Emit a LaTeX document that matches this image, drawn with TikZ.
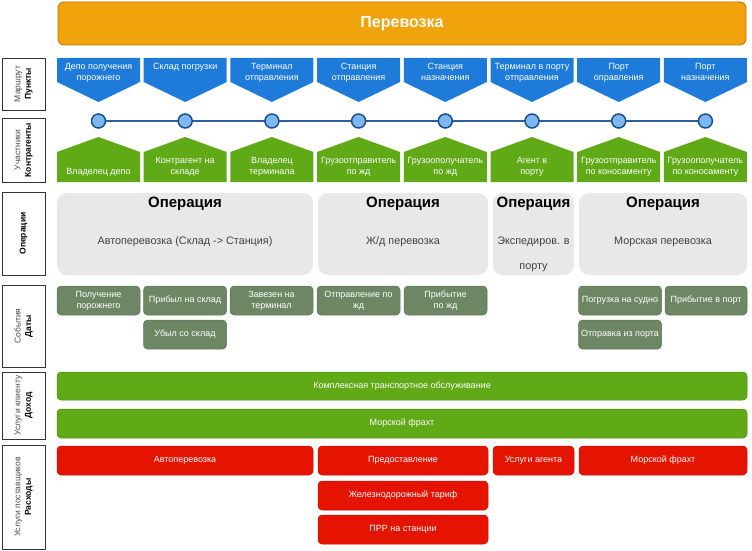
\documentclass[tikz,border=0pt]{standalone}
\usepackage{fontspec}
\setmainfont{Liberation Sans}
\definecolor{orF}{HTML}{F0A30A}
\definecolor{orD}{HTML}{BD7000}
\definecolor{blF}{HTML}{1E7BD9}
\definecolor{ciF}{HTML}{7DB9F0}
\definecolor{ciD}{HTML}{1A4F8F}
\definecolor{liC}{HTML}{2E5E9E}
\definecolor{grF}{HTML}{60A917}
\definecolor{grD}{HTML}{4C8A12}
\definecolor{olF}{HTML}{6D8764}
\definecolor{olD}{HTML}{5E7556}
\definecolor{gyF}{HTML}{E8E8E8}
\definecolor{rdF}{HTML}{E51400}
\definecolor{rdD}{HTML}{C41100}
\newcommand\rbox[7]{%
  \node[#2, minimum width={(#5-#3)*1pt}, minimum height={(#6-#4)*1pt}] (#1) at ({(#3+#5)/2},{(#4+#6)/2}) {#7};}
\tikzset{
  base/.style={inner sep=0pt, outer sep=0pt, align=center},
  banner/.style={base, fill=orF, draw=orD, line width=0.8pt, rounded corners=6pt, text=white, font=\fontsize{16}{18}\selectfont\bfseries},
  lab/.style={base, draw=black!80, line width=0.6pt, fill=white},
  labtxt/.style={base, rotate=90, font=\fontsize{8.5}{10.5}\selectfont, text=black!70},
  optile/.style={base, fill=gyF, rounded corners=10pt},
  optitle/.style={base, font=\fontsize{15}{17}\selectfont\bfseries, text=black},
  opsub/.style={base, font=\fontsize{10.8}{25}\selectfont, text=black!75},
  evt/.style={base, fill=olF, draw=olD, line width=0.5pt, rounded corners=4pt, text=white, font=\fontsize{9}{11}\selectfont},
  rev/.style={base, fill=grF, draw=grD, line width=0.5pt, rounded corners=4pt, text=white, font=\fontsize{9}{11}\selectfont},
  cost/.style={base, fill=rdF, draw=rdD, line width=0.5pt, rounded corners=4pt, text=white, font=\fontsize{9}{11}\selectfont},
  pent/.style={line width=0.5pt},
  penttxt/.style={base, text=white, font=\fontsize{9}{11}\selectfont},
  dot/.style={circle, inner sep=0pt, outer sep=0pt, minimum size=14pt, fill=ciF, draw=ciD, line width=1.5pt},
  chain/.style={draw=liC, line width=1.5pt}
}
\begin{document}
\begin{tikzpicture}[x=1pt,y=-1pt]
\useasboundingbox (0,0) rectangle (752,551);
% banner
\rbox{ban}{banner}{58}{2}{746}{45}{Перевозка}
% left labels
\rbox{L1}{lab}{2}{58}{45}{110}{}
\rbox{L2}{lab}{2}{118}{45}{182}{}
\rbox{L3}{lab}{2}{192}{45}{275}{}
\rbox{L4}{lab}{2}{285}{45}{367}{}
\rbox{L5}{lab}{2}{372}{45}{439}{}
\rbox{L6}{lab}{2}{445}{45}{549}{}
\node[labtxt] (L1t) at (L1) {Маршрут\\\textbf{\color{black}Пункты}};
\node[labtxt] (L2t) at (L2) {Участники\\\textbf{\color{black}Контрагенты}};
\node[labtxt] (L3t) at (L3) {\textbf{\color{black}Операции}};
\node[labtxt] (L4t) at (L4) {События\\\textbf{\color{black}Даты}};
\node[labtxt] (L5t) at (L5) {Услуги клиенту\\\textbf{\color{black}Доход}};
\node[labtxt] (L6t) at (L6) {Услуги поставщиков\\\textbf{\color{black}Расходы}};
% route pentagons, dots and participants
\foreach \i/\bt/\gt in {
  0/{Депо получения\\порожнего}/{Владелец депо},
  1/{Склад погрузки}/{Контрагент на\\складе},
  2/{Терминал\\отправления}/{Владелец\\терминала},
  3/{Станция\\отправления}/{Грузоотправитель\\по жд},
  4/{Станция\\назначения}/{Грузоополучатель\\по жд},
  5/{Терминал в порту\\отправления}/{Агент в\\порту},
  6/{Порт\\оправления}/{Грузоотправитель\\по коносаменту},
  7/{Порт\\назначения}/{Грузоополучатель\\по коносаменту}}{
  \pgfmathsetmacro\cx{98.5+86.7*\i}
  \pgfmathsetmacro\lx{\cx-41.5}
  \pgfmathsetmacro\rx{\cx+41.5}
  \fill[blF, pent] (\lx,58) -- (\rx,58) -- (\rx,82) -- (\cx,102) -- (\lx,82) -- cycle;
  \node[penttxt, anchor=north] (b\i) at (\cx,63.5) {\bt};
  \fill[grF, pent] (\cx,137) -- (\rx,152) -- (\rx,182) -- (\lx,182) -- (\lx,152) -- cycle;
  \node[penttxt, anchor=south] (g\i) at (\cx,176.5) {\gt};
}
\foreach \i in {0,...,7}{
  \pgfmathsetmacro\cx{98.5+86.7*\i}
  \coordinate (p\i) at (\cx,121);
}
\draw[chain] (p0) -- (p1) -- (p2) -- (p3) -- (p4) -- (p5) -- (p6) -- (p7);
\foreach \i in {0,...,7}{
  \node[dot] (c\i) at (p\i) {};
}
% operations
\rbox{o1}{optile}{57}{193}{313}{275}{}
\rbox{o2}{optile}{318}{193}{488}{275}{}
\rbox{o3}{optile}{493}{193}{574}{275}{}
\rbox{o4}{optile}{579}{193}{747}{275}{}
\foreach \k/\x in {1/185, 2/403, 3/533.5, 4/663}{
  \node[optitle] (ot\k) at (\x,204) {Операция};
}
\node[opsub, anchor=base] (os1) at (185,244) {Автоперевозка (Склад -> Станция)};
\node[opsub, anchor=base] (os2) at (403,244) {Ж/д перевозка};
\node[opsub, anchor=base] (os3) at (533.5,269) {Экспедиров. в\\порту};
\node[opsub, anchor=base] (os4) at (663,244) {Морская перевозка};
% events
\rbox{e1}{evt}{57}{286}{140}{315}{Получение\\порожнего}
\rbox{e2}{evt}{143.5}{286}{226.5}{315}{Прибыл на склад}
\rbox{e3}{evt}{230}{286}{313}{315}{Завезен на\\терминал}
\rbox{e4}{evt}{317}{286}{400}{315}{Отправление по\\жд}
\rbox{e5}{evt}{404}{286}{487}{315}{Прибытие\\по жд}
\rbox{e6}{evt}{578.5}{286}{661.5}{315}{Погрузка на судно}
\rbox{e7}{evt}{665}{286}{747}{315}{Прибытие в порт}
\rbox{e8}{evt}{143.5}{320}{226.5}{349}{Убыл со склад}
\rbox{e9}{evt}{578.5}{320}{661.5}{349}{Отправка из порта}
% revenue
\rbox{r1}{rev}{57}{372}{747}{400}{Комплексная транспортное обслуживание}
\rbox{r2}{rev}{57}{409}{747}{438}{Морской фрахт}
% costs
\rbox{k1}{cost}{57}{446}{313}{475}{Автоперевозка}
\rbox{k2}{cost}{318}{446}{488}{475}{Предоставление}
\rbox{k3}{cost}{493}{446}{574}{475}{Услуги агента}
\rbox{k4}{cost}{579}{446}{747}{475}{Морской фрахт}
\rbox{k5}{cost}{318}{481}{488}{510}{Железнодорожный тариф}
\rbox{k6}{cost}{318}{515}{488}{544}{ПРР на станции}
\end{tikzpicture}
\end{document}
